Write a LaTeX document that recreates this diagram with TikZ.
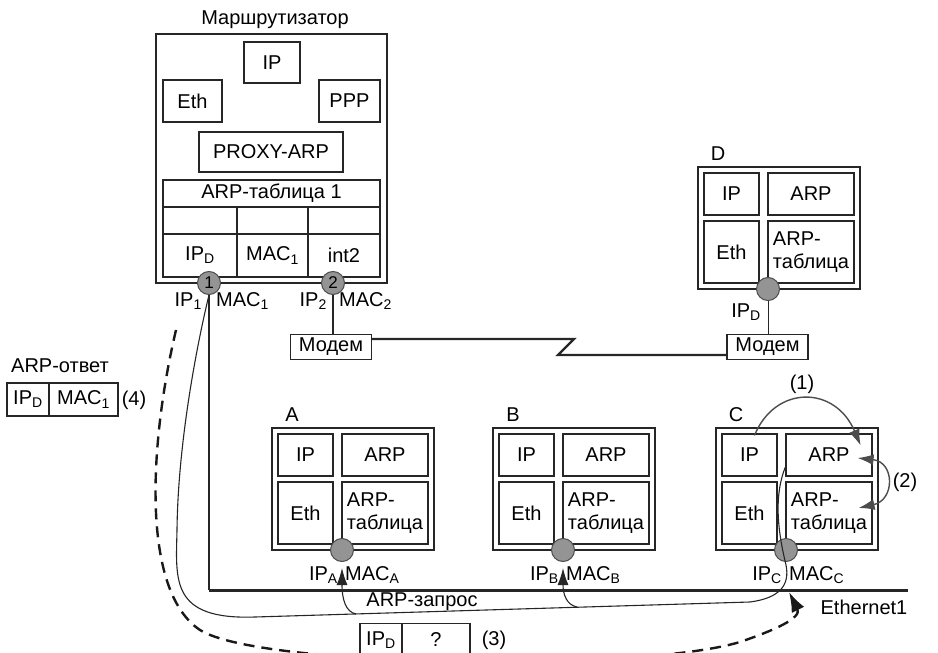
\documentclass[tikz,border=0pt]{standalone}
\usepackage{fontspec}
\setmainfont{Liberation Sans}
\usetikzlibrary{arrows.meta, positioning}
\newcommand\fs{\fontsize{20}{23}\selectfont}

\begin{document}
\begin{tikzpicture}[x=1pt, y=-1pt,
    box/.style={draw=black!85, line width=1.2pt, inner sep=1pt, align=center, font=\fs},
    routerframe/.style={draw=black!85, line width=2pt, minimum width=231pt, minimum height=249pt},
    hostframe/.style={draw=black!85, line width=1.6pt, minimum width=162pt, minimum height=122pt},
    smallbox/.style={box, minimum width=55pt, minimum height=42pt},
    widebox/.style={box, minimum width=86pt, minimum height=42pt},
    tallbox/.style={box, minimum width=55pt, minimum height=62pt},
    tablebox/.style={box, minimum width=86pt, minimum height=62pt, align=left},
    cellip/.style={box, minimum width=42pt, minimum height=33pt},
    cellmac/.style={box, minimum width=69pt, minimum height=33pt},
    modem/.style={box, minimum width=81pt, minimum height=25pt},
    port/.style={circle, draw=black!70, fill=black!42, line width=1pt, minimum size=23pt, inner sep=0pt, font=\fontsize{17}{17}\selectfont},
    lbl/.style={inner sep=1pt, font=\fs},
    ether/.style={line width=3pt, black!85},
    trunk/.style={line width=2.4pt, black!85},
    link/.style={line width=2.2pt, black!85},
    thinlink/.style={line width=1pt, black!85},
    req/.style={line width=1.1pt, black!85},
    reqarrow/.style={req, -{Latex[length=17pt,width=11pt]}},
    reply/.style={line width=2.4pt, black!90, dash pattern=on 11pt off 7pt, -{Latex[length=20pt,width=14pt]}},
    steparrow/.style={line width=1.4pt, black!70, -{Latex[length=16pt,width=11pt]}},
    stepboth/.style={line width=1.4pt, black!70, {Latex[length=16pt,width=11pt]}-{Latex[length=16pt,width=11pt]}}
]
    \useasboundingbox (0,0) rectangle (938,653);

    % Router with its ARP table
    \node[lbl] (title) at (275,20) {Маршрутизатор};
    \node[routerframe] (router) at (271.5,158.5) {};
    \node[box, minimum width=56pt, minimum height=41pt] (r-ip) at (272,62.5) {IP};
    \node[box, minimum width=59pt, minimum height=42pt] (r-eth) at (192.5,101) {Eth};
    \node[box, minimum width=61pt, minimum height=42pt] (r-ppp) at (349.5,101) {PPP};
    \node[box, minimum width=144pt, minimum height=40pt] (r-proxy) at (271,152) {PROXY-ARP};
    \node[box, minimum width=217pt, minimum height=27pt] (tab-head) at (271.5,193.5) {ARP-таблица 1};
    \node[box, minimum width=74pt, minimum height=27pt] (tab-e1) at (200,220.5) {};
    \node[box, minimum width=71pt, minimum height=27pt] (tab-e2) at (272.5,220.5) {};
    \node[box, minimum width=72pt, minimum height=27pt] (tab-e3) at (344,220.5) {};
    \node[box, minimum width=74pt, minimum height=43pt] (tab-ip) at (200,255.5) {IP\textsubscript{D}};
    \node[box, minimum width=71pt, minimum height=43pt] (tab-mac) at (272.5,255.5) {MAC\textsubscript{1}};
    \node[box, minimum width=72pt, minimum height=43pt] (tab-int) at (344,255.5) {int2};

    \node[port] (port1) at (209,283) {1};
    \node[port] (port2) at (333,283) {2};
    \node[lbl, anchor=east] (ip1) at (203,301) {IP\textsubscript{1}};
    \node[lbl, anchor=west] (mac1) at (215,301) {MAC\textsubscript{1}};
    \node[lbl, anchor=east] (ip2) at (328,301) {IP\textsubscript{2}};
    \node[lbl, anchor=west] (mac2) at (338,301) {MAC\textsubscript{2}};

    % Hosts
    \foreach \h/\hx/\hy in {D/698/167, A/272/428, B/493/428, C/716/428} {
        \node[hostframe] (\h) at ({\hx+81},{\hy+61}) {};
        \node[smallbox] (\h-ip) at ({\hx+33.5},{\hy+27}) {IP};
        \node[widebox] (\h-arp) at ({\hx+113},{\hy+27}) {ARP};
        \node[tallbox] (\h-eth) at ({\hx+33.5},{\hy+85}) {Eth};
        \node[tablebox] (\h-tab) at ({\hx+113},{\hy+85}) {ARP-\\таблица};
        \node[port] (\h-port) at ({\hx+70},{\hy+122}) {};
        \node[lbl] (\h-name) at ({\hx+20},{\hy-13}) {\h};
    }
    \foreach \h in {A,B,C} {
        \node[lbl, anchor=east] (\h-ipl) at ([xshift=-3pt,yshift=-13pt]\h-port.south) {IP\textsubscript{\h}};
        \node[lbl, anchor=west] (\h-macl) at ([xshift=2pt,yshift=-13pt]\h-port.south) {MAC\textsubscript{\h}};
    }

    % Modem link to D
    \node[modem] (modemR) at (331,347) {Модем};
    \node[modem] (modemD) at (767.5,347) {Модем};
    \node[lbl, anchor=east] (D-ipl) at ([xshift=-6pt,yshift=-11pt]D-port.south) {IP\textsubscript{D}};
    \coordinate (zigT) at (574,339);
    \coordinate (zigB) at (558,355);
    \draw[link] (port2) -- (port2 |- modemR.north);
    \draw[thinlink] (D-port) -- (D-port |- modemD.north);
    \draw[link] ([yshift=8pt]modemR.east) -- (zigT) -- (zigB) -- ([yshift=-8pt]modemD.west);

    % Ethernet segment
    \coordinate (ethL) at (209,590);
    \coordinate (ethR) at (908,590);
    \draw[trunk] (port1) -- (ethL);
    \draw[ether] (ethL) -- (ethR);
    \node[lbl] (ethname) at (864,607) {Ethernet1};

    % Broadcast request from C
    \coordinate (reqA) at (356,614);
    \coordinate (reqB) at (577,607);
    \draw[req] ([yshift=-12pt]C-arp.west) .. controls (772,500) and (780,540) .. (786,565)
        .. controls (790,585) and (780,598) .. (750,602) -- (255,617)
        .. controls (170,620) and (176,580) .. (177,530)
        .. controls (178,440) and (198,340) .. (port1.south);
    \draw[reqarrow] (reqA) .. controls (346,612) and (342,600) .. ([yshift=-6pt]A-port.south);
    \draw[reqarrow] (reqB) .. controls (567,605) and (563,595) .. ([yshift=-6pt]B-port.south);
    \node[lbl] (reqname) at (422,602) {ARP-запрос};
    \node[cellip] (req-ip) at (381,640) {IP\textsubscript{D}};
    \node[cellmac, minimum width=68pt] (req-mac) at (436,640) {?};
    \node[lbl] (req-num) at (494,640) {(3)};

    % Reply from the router
    \coordinate (rep0) at (176,330);
    \coordinate (repC) at (789,592);
    \draw[reply] (rep0) .. controls (150,440) and (140,590) .. (200,630)
        .. controls (260,668) and (640,672) .. (740,642)
        .. controls (775,630) and (802,618) .. (repC);
    \node[lbl] (ansname) at (60,366) {ARP-ответ};
    \node[cellip] (ans-ip) at (28,399.5) {IP\textsubscript{D}};
    \node[cellmac] (ans-mac) at (83.5,399.5) {MAC\textsubscript{1}};
    \node[lbl] (ans-num) at (134,400) {(4)};

    % Steps inside C
    \draw[steparrow] ([xshift=5pt,yshift=-2pt]C-ip.north) .. controls (775,385) and (835,385) .. ([xshift=-12pt,yshift=-12pt]C-arp.north east);
    \draw[stepboth] ([xshift=-15pt,yshift=-3pt]C-arp.east) .. controls (895,462) and (895,500) .. ([xshift=-14pt,yshift=5pt]C-tab.east);
    \node[lbl] (step1) at (802,384) {(1)};
    \node[lbl] (step2) at (905,482) {(2)};

\end{tikzpicture}
\end{document}
